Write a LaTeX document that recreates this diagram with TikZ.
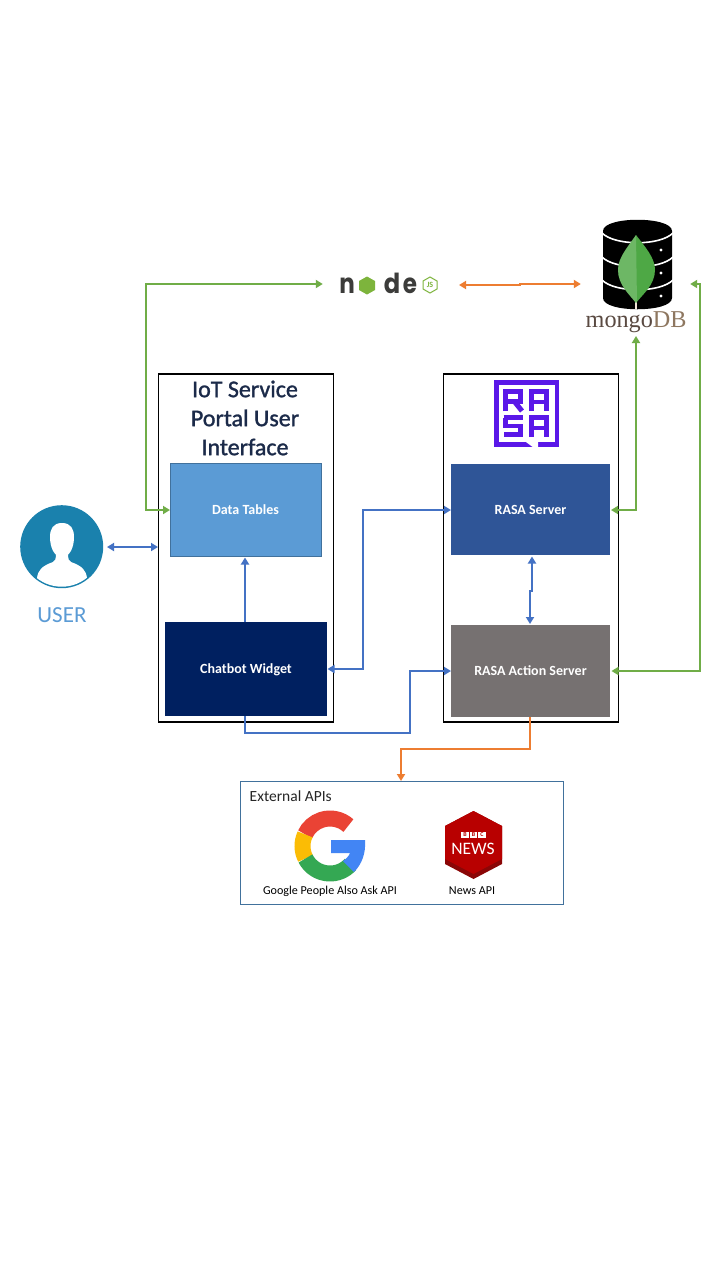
\documentclass[tikz,border=0pt]{standalone}
\usepackage{fontspec}
\setmainfont{Carlito}
\newfontfamily\serifface{Liberation Serif}
\newfontfamily\logoface{Poppins}
\newfontfamily\titleface[FakeBold=1.3]{Carlito}
\usetikzlibrary{arrows.meta}
\definecolor{cgreen}{HTML}{70AD47}
\definecolor{corange}{HTML}{ED7D31}
\definecolor{cblue}{HTML}{4472C4}
\definecolor{cdata}{HTML}{5B9BD5}
\definecolor{cnavy}{HTML}{002060}
\definecolor{cserver}{HTML}{2F5597}
\definecolor{caction}{HTML}{767171}
\definecolor{cborder}{HTML}{41719C}
\definecolor{cuser}{HTML}{1A81AD}
\definecolor{crasa}{HTML}{5A17E8}
\definecolor{cbbc}{HTML}{B80000}
\definecolor{cbbcd}{HTML}{8A0606}
\definecolor{cleaf}{HTML}{4EA845}
\definecolor{cnodegray}{HTML}{3C3C3A}
\definecolor{cnodegreen}{HTML}{7DB43C}
\definecolor{ctitle}{HTML}{1B2A49}
\tikzset{
  x=1pt,y=-1pt,
  outerbox/.style={draw=black,line width=1.2pt,fill=white,inner sep=0pt},
  panel/.style={inner sep=0pt,text=white,text depth=0pt,font=\fontsize{14}{16}\selectfont\bfseries},
  iconbox/.style={inner sep=0pt,draw=none,fill=none},
  link/.style={line width=2pt,-{Triangle[length=7pt,width=8pt]}},
  both/.style={line width=2pt,{Triangle[length=7pt,width=8pt]}-{Triangle[length=7pt,width=8pt]}},
  caption/.style={inner sep=0pt,text=black,font=\fontsize{12.1}{14}\selectfont},
  logoletter/.style={inner sep=0pt,anchor=base,text=cnodegray,font=\logoface\bfseries\fontsize{23}{23}\selectfont},
}
\begin{document}
\begin{tikzpicture}
\useasboundingbox (0,0) rectangle (720,1280);
\fill[white] (0,0) rectangle (720,1280);

% containers
\node[outerbox,minimum width=175pt,minimum height=348pt] (portal) at (246,548) {};
\node[outerbox,minimum width=175pt,minimum height=348pt] (rasabox) at (531,548) {};
\node[draw=cborder,line width=1.1pt,fill=white,inner sep=0pt,minimum width=323pt,minimum height=123pt] (ext) at (402,843) {};

% panels
\node[panel,draw=cborder,line width=.7pt,fill=cdata,minimum width=151pt,minimum height=93pt] (data) at (245.5,510) {Data Tables};
\node[panel,fill=cnavy,minimum width=162pt,minimum height=94pt] (chat) at (246,669) {Chatbot Widget};
\node[panel,fill=cserver,minimum width=159pt,minimum height=91pt] (server) at (530.5,509.5) {RASA Server};
\node[panel,fill=caction,minimum width=159pt,minimum height=92pt] (action) at (530.5,671) {RASA Action Server};

% titles
\node[inner sep=0pt,align=center,text=ctitle,font=\titleface\fontsize{24}{29}\selectfont] (title) at (245,418) {IoT Service\\Portal User\\Interface};
\node[inner sep=0pt,text=cdata,font=\fontsize{23}{26}\selectfont] (usertext) at (62,615) {USER};
\node[inner sep=0pt,anchor=west,text=black!85,font=\fontsize{15.5}{18}\selectfont] (exttext) at (249.5,796) {External APIs};
\node[caption] (gtext) at (330,891) {Google People Also Ask API};
\node[caption] (ntext) at (472,891) {News API};

% invisible anchors of the logos
\node[iconbox,minimum width=136pt,minimum height=30pt] (nodejs) at (391,284) {};
\node[iconbox,minimum width=109pt,minimum height=104pt] (mongo) at (635.5,284) {};
\node[iconbox,minimum width=90pt,minimum height=84pt] (user) at (62,547) {};
\coordinate (a1) at (146,284);
\coordinate (a2) at (146,510);
\coordinate (b1) at (636,510);
\coordinate (c1) at (700,284);
\coordinate (c2) at (700,671);
\coordinate (d1) at (363,669);
\coordinate (d2) at (363,510);
\coordinate (e1) at (245,733);
\coordinate (e2) at (410,733);
\coordinate (e3) at (410,671);
\coordinate (f1) at (530,749);
\coordinate (f2) at (401,749);
\coordinate (f3) at (401,781);
\coordinate (dataS) at (245,557.5);
\coordinate (chatN) at (245,622);
\coordinate (serverS) at (532,556.5);
\coordinate (j1) at (532,591);
\coordinate (j2) at (530,591);
\coordinate (actionN) at (530,624);
\coordinate (chatS) at (245,716);
\coordinate (actionS) at (530,717);
\coordinate (mongoS) at (636,336);
\coordinate (serverE) at (611,510);
\coordinate (actionE) at (611.5,671);
\coordinate (chatE) at (327.5,669);
\coordinate (serverW) at (451,510);
\coordinate (actionW) at (451,671);
\coordinate (dataW) at (170,510);
\coordinate (portalW) at (158,547);
\coordinate (userE) at (107,547);
\coordinate (o0) at (459,285);
\coordinate (o1) at (520,285);
\coordinate (o2) at (520,284);

% connectors
\draw[both,color=cgreen] (nodejs.west) -- (a1) -- (a2) -- (dataW);
\draw[both,color=corange] (o0) -- (o1) -- (o2) -- (mongo.west);
\draw[both,color=cgreen] (mongoS) -- (b1) -- (serverE);
\draw[both,color=cgreen] (mongo.east) -- (c1) -- (c2) -- (actionE);
\draw[both,color=cblue] (userE) -- (portalW);
\draw[link,color=cblue] (chatN) -- (dataS);
\draw[both,color=cblue] (chatE) -- (d1) -- (d2) -- (serverW);
\draw[link,color=cblue] (chatS) -- (e1) -- (e2) -- (e3) -- (actionW);
\draw[both,color=cblue] (serverS) -- (j1) -- (j2) -- (actionN);
\draw[link,color=corange] (actionS) -- (f1) -- (f2) -- (f3);

% user icon
\fill[cuser] (61.7,546.7) circle (41.5pt);
\begin{scope}
\clip (61.7,546.7) circle (40pt);
\fill[white] (36,592) -- (37,578) .. controls (38,570) and (42,566) .. (53,562) .. controls (55,561) and (56,559) .. (56,554) -- (68,554) .. controls (68,559) and (69,561) .. (71,562) .. controls (82,566) and (86,570) .. (87,578) -- (88,592) -- cycle;
\end{scope}
\fill[white] (62,523) .. controls (71,523) and (74,529) .. (74,537) .. controls (74,547) and (70,557) .. (62,557) .. controls (54,557) and (50,547) .. (50,537) .. controls (50,529) and (53,523) .. (62,523) -- cycle;

% node.js logo
\node[logoletter] (ln) at (347,293.5) {\scalebox{1}[1.2]{n}};
\fill[cnodegreen] (367,276.5) -- (375,281) -- (375,290) -- (367,294.5) -- (359,290) -- (359,281) -- cycle;
\node[logoletter] (ld) at (392,293.5) {\scalebox{1.05}[1.2]{d}};
\node[logoletter] (le) at (410,293.5) {\scalebox{1}[1.2]{e}};
\draw[cnodegreen,line width=1pt,fill=white] (430,277) -- (437,281) -- (437,289) -- (430,293) -- (423,289) -- (423,281) -- cycle;
\node[inner sep=0pt,text=cnodegreen,font=\bfseries\fontsize{8}{8}\selectfont] (ljs) at (430,285) {JS};

% mongoDB logo
\fill[black] (603,231) .. controls (603,216) and (672,216) .. (672,231) -- (672,298) .. controls (672,313) and (603,313) .. (603,298) -- cycle;
\draw[white,line width=1.6pt] (602,233) .. controls (615,246) and (660,246) .. (673,233);
\draw[white,line width=1.6pt] (602,257) .. controls (615,270) and (660,270) .. (673,257);
\draw[white,line width=1.6pt] (602,280) .. controls (615,293) and (660,293) .. (673,280);
\fill[white] (661,250) circle (1.6pt) (661,273) circle (1.6pt) (661,296) circle (1.6pt);
\draw[white!80!brown,line width=1.1pt] (636,295) -- (636,309);
\fill[cleaf] (636,235) .. controls (646,248) and (655,258) .. (655,270) .. controls (655,285) and (642,295) .. (636,303) .. controls (630,295) and (618,285) .. (618,270) .. controls (618,258) and (627,248) .. (636,235) -- cycle;
\fill[white!50!cleaf,opacity=.35] (636,235) -- (637,303) -- (636,303) .. controls (630,295) and (618,285) .. (618,270) .. controls (618,258) and (627,248) .. (636,235) -- cycle;
\node[inner sep=0pt,anchor=base west,font=\serifface\fontsize{24.2}{26}\selectfont] (mtext) at (585.5,327) {\textcolor[HTML]{5A4A42}{mongo}\textcolor[HTML]{8E7760}{DB}};

% RASA logo
\begin{scope}[crasa]
\draw[crasa,line width=4.7pt] (496.5,382.5) rectangle (557,444.5);
\fill[white] (526,442) -- (538,442) -- (538,448) -- (534,448) -- cycle;
\draw[line width=5pt] (505.5,411) -- (505.5,391.5) -- (520.5,391.5) -- (520.5,401) -- (505.5,401);
\draw[line width=5pt] (514,401) -- (522,411);
\draw[line width=5pt] (531.5,411) -- (531.5,391.5) -- (546.5,391.5) -- (546.5,411);
\draw[line width=4.4pt] (531.5,402) -- (546.5,402);
\draw[line width=4.6pt] (503.5,417.5) -- (523,417.5);
\draw[line width=4.6pt] (505.5,417.5) -- (505.5,426) -- (520.5,426) -- (520.5,434.5) -- (503.5,434.5);
\draw[line width=5pt] (531.5,437) -- (531.5,417.5) -- (546.5,417.5) -- (546.5,437);
\draw[line width=4.4pt] (531.5,428) -- (546.5,428);
\end{scope}

% Google G
\begin{scope}[shift={(330,846)}]
\draw[line width=16pt,color={rgb,255:red,234;green,67;blue,53}] (48:27.5pt) arc[start angle=48,end angle=155,radius=27.5pt];
\draw[line width=16pt,color={rgb,255:red,251;green,188;blue,5}] (155:27.5pt) arc[start angle=155,end angle=207,radius=27.5pt];
\draw[line width=16pt,color={rgb,255:red,52;green,168;blue,83}] (207:27.5pt) arc[start angle=207,end angle=318,radius=27.5pt];
\end{scope}
\fill[color={rgb,255:red,66;green,133;blue,244}] (331,840) -- (365,840) .. controls (366,853) and (362,864) .. (354,872) -- (343,861) .. controls (346,859) and (349,856) .. (350,853) -- (331,853) -- cycle;

% BBC News logo
\fill[cbbcd] (473.5,811) -- (502,826) -- (502,864) -- (473.5,879) -- (445,864) -- (445,826) -- cycle;
\fill[cbbc] (473.5,811) -- (502,826) -- (502,859) -- (473.5,874) -- (445,859) -- (445,826) -- cycle;
\foreach \cx/\nm/\lt in {465/ba/B,473.5/bb/B,482/bc/C}{
  \node[fill=white,text=cbbc,inner sep=0pt,minimum width=7.4pt,minimum height=6.4pt,font=\bfseries\fontsize{6}{6}\selectfont] (\nm) at (\cx,835) {\lt};
}
\node[inner sep=0pt,text=white,font=\fontsize{17.5}{17}\selectfont] (news) at (473,849) {NEWS};
\end{tikzpicture}
\end{document}
